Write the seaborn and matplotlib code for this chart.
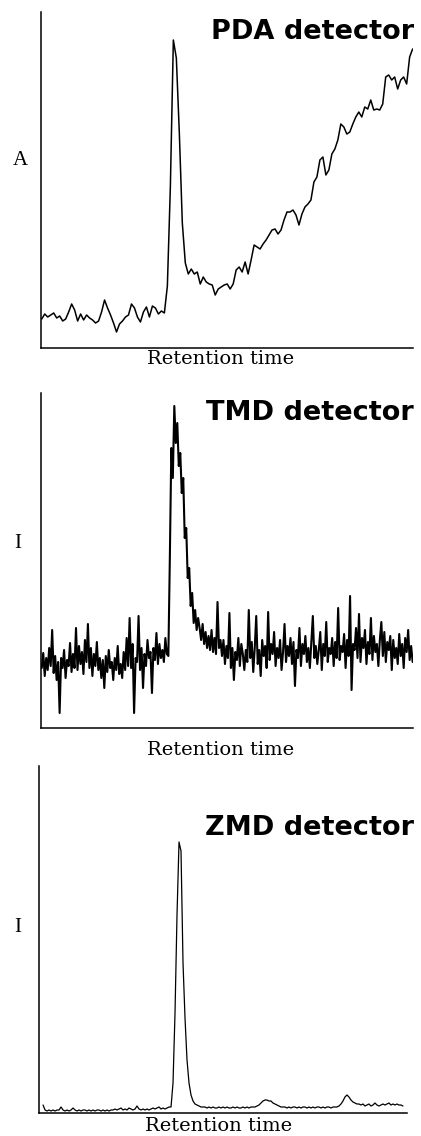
import numpy as np
import pandas as pd
import matplotlib
matplotlib.use("Agg")
import matplotlib.pyplot as plt
import seaborn as sns

# ---------------- data (signal heights in arbitrary units, time in min) ----------------
pda_signal = [
    29, 34, 31, 33, 35, 30, 32, 27, 29, 36, 44, 38, 27, 34, 28, 33, 30, 28, 25, 27,
    36, 48, 40, 33, 25, 16, 24, 27, 31, 33, 44, 40, 31, 26, 36, 41, 31, 42, 40, 34,
    37, 35,
    62, 161, 308, 290, 215, 125, 85, 74, 79, 74, 76, 64, 71, 66, 64, 63, 53, 59,
    61, 63, 64, 59, 64, 78, 81, 76, 86, 74, 88, 103, 101, 99, 104, 108, 113, 118,
    119, 114, 118, 128, 136, 136, 138, 133, 123, 134, 141, 144, 148, 166, 171, 188,
    191, 173, 178, 194, 199, 208, 224, 221, 214, 216, 224, 231, 236, 231, 241, 239,
    248, 238, 239, 238, 244, 271, 273, 268, 271, 259, 268, 271, 264, 291, 299,
]

tmd_signal = [
    # before the peak
    60, 75, 52, 70, 58, 80, 62, 98, 55, 72, 48, 66, 15, 70, 60, 78, 50, 68, 62, 85,
    56, 74, 60, 100, 58, 82, 64, 76, 54, 88, 66, 104, 60, 80, 52, 74, 62, 86, 58, 70,
    50, 68, 40, 72, 56, 78, 60, 66, 48, 70, 58, 82, 54, 64, 50, 76, 58, 90, 62, 110,
    60, 84, 15, 70, 66, 112, 58, 80, 40, 74, 62, 88, 70, 76, 35, 80, 68, 95, 64, 84,
    70, 78, 66, 90, 74,
    # peak
    72, 170, 280, 250, 322, 285, 305, 262, 275, 235, 250, 190, 200, 150, 160, 122,
    135, 105, 118, 98, 110,
    # after the peak
    100, 88, 104, 84, 96, 80, 92, 78, 98, 76, 90, 74, 126, 80, 88,
    72, 88, 64, 82, 70, 115, 60, 80, 48, 76, 68, 90, 62, 84, 74,
    58, 78, 66, 118, 70, 86, 56, 80, 112, 64, 78, 52, 88, 72, 82,
    60, 116, 68, 84, 74, 96, 62, 80, 70, 88, 58, 76, 104, 66, 82,
    72, 90, 64, 86, 42, 78, 70, 100, 62, 84, 74, 92, 66, 80, 60,
    86, 112, 70, 82, 64, 78, 96, 58, 84, 72, 106, 66, 80, 74, 90,
    62, 86, 70, 120, 68, 82, 76, 94, 60, 88, 72, 132, 38, 84, 78,
    100, 70, 114, 66, 90, 80, 98, 64, 86, 74, 110, 68, 92, 76, 84,
    62, 88, 106, 72, 96, 66, 86, 78, 92, 58, 88, 70,
    80, 64, 94, 72, 84, 60, 90, 76, 98, 68, 82, 66,
]

zmd_signal = [
    8, 3, 2, 3, 2, 3, 2, 3, 3, 6, 3, 2, 3, 2, 3, 5, 3, 2, 3, 2,
    3, 3, 2, 3, 2, 3, 2, 3, 3, 2, 3, 2, 3, 2, 3, 3, 4, 3, 4, 5,
    3, 4, 3, 5, 4, 3, 4, 7, 4, 3, 4, 3, 4, 3, 4, 5, 4, 5, 6, 4,
    5, 4, 5, 6,
    6, 30, 100, 198, 271, 262, 150, 95, 53, 30, 18, 12, 9, 8, 7, 6, 6,
    6, 5, 6, 5, 6, 5, 5, 6, 5, 6, 5, 6, 5, 5, 6, 5, 6, 5, 5, 6, 5, 6, 5, 6, 6, 6,
    7, 8, 10, 12, 13, 13, 12, 12, 10, 9, 8, 7, 6, 6,
    6, 5, 6, 5, 6, 6, 5, 6, 5, 6, 6, 5, 6, 5, 6, 5, 6, 6, 5, 6, 5, 6, 6, 5, 6, 6, 6, 7,
    9, 12, 16, 18, 16, 13, 11, 10, 9, 9,
    8, 9, 7, 8, 9, 7, 8, 10, 8, 7, 8, 9, 8, 9, 10, 8, 9, 8, 9, 8, 8, 7,
]

pda_time = np.linspace(0.02, 9.99, len(pda_signal))
tmd_time = np.linspace(0.02, 9.99, len(tmd_signal))
zmd_time = np.linspace(0.11, 9.89, len(zmd_signal))

titles = ["PDA detector", "TMD detector", "ZMD detector"]
ylabels = ["A", "I", "I"]
xlabel = "Retention time"

# ---------------- figure ----------------
sns.set_theme(style="white")
plt.rcParams["font.family"] = ["DejaVu Sans"]

W, H = 421, 1136
fig = plt.figure(figsize=(W / 100, H / 100), dpi=100)
fig.patch.set_facecolor("white")

# axes boxes in pixels: left, top, right, bottom
boxes = [(41, 12, 413, 348), (41, 393, 413, 728), (39, 766, 407, 1113)]
ylims = [336, 335, 347]
series = [(pda_time, pda_signal), (tmd_time, tmd_signal), (zmd_time, zmd_signal)]
title_px = [(414, 32), (414, 413), (414, 828)]
ylab_px = [(20, 161), (18, 543), (18, 928)]
xlab_px = [(221, 359), (221, 750), (219, 1126)]
lws = [1.1, 1.5, 0.9]

for i in range(3):
    l, t, r, b = boxes[i]
    ax = fig.add_axes([l / W, 1 - b / H, (r - l) / W, (b - t) / H])
    ax.set_facecolor("white")
    tm, sig = series[i]
    df = pd.DataFrame({"time": tm, "signal": sig})
    sns.lineplot(data=df, x="time", y="signal", ax=ax, color="black",
                 linewidth=lws[i], estimator=None, sort=False)
    ax.set_xlim(0, 10)
    ax.set_ylim(0, ylims[i])
    ax.set_xticks([])
    ax.set_yticks([])
    sns.despine(ax=ax)
    for s in ("left", "bottom"):
        ax.spines[s].set_color("black")
        ax.spines[s].set_linewidth(1.1)

    w_px, h_px = r - l, b - t
    tx, ty = title_px[i]
    ax.text((tx - l) / w_px, (b - ty) / h_px, titles[i], transform=ax.transAxes,
            ha="right", va="center", fontsize=19.5, fontweight="bold",
            family="DejaVu Sans", color="black")

    yx, yy = ylab_px[i]
    ax.set_ylabel(ylabels[i], rotation=0, ha="center", va="center",
                  fontsize=15, family="Liberation Serif", color="black")
    ax.yaxis.set_label_coords((yx - l) / w_px, (b - yy) / h_px)

    xx, xy = xlab_px[i]
    ax.set_xlabel(xlabel, ha="center", va="center", fontsize=14,
                  family="DejaVu Serif", color="black")
    ax.xaxis.set_label_coords((xx - l) / w_px, (b - xy) / h_px)

fig.savefig("out.png", dpi=100, facecolor="white")
